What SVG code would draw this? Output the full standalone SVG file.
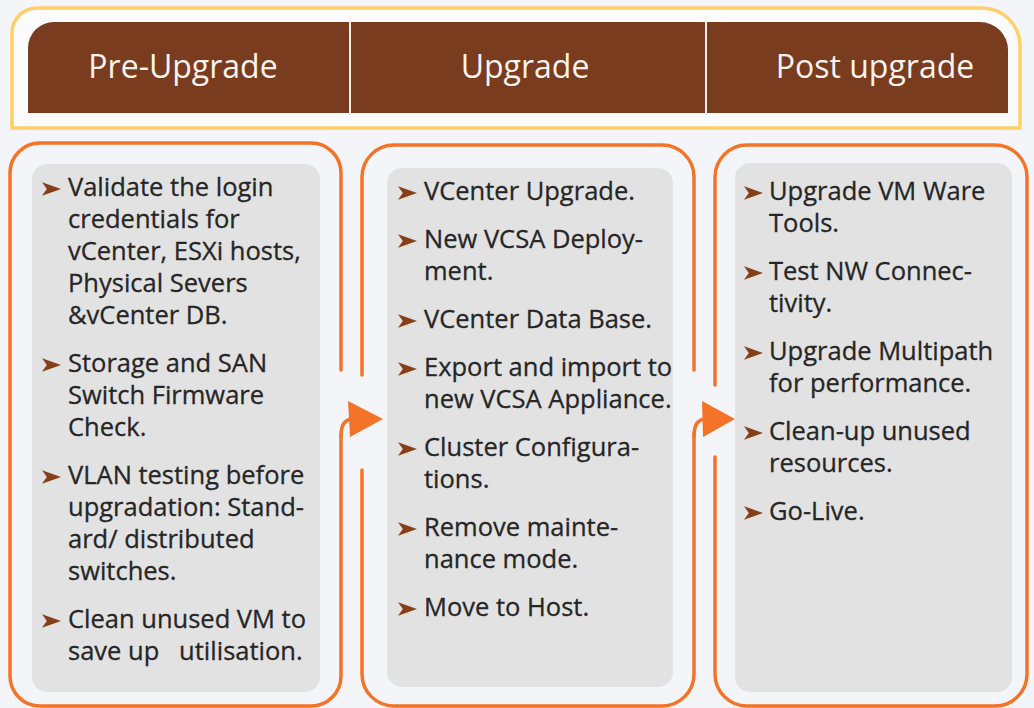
<svg xmlns="http://www.w3.org/2000/svg" width="1034" height="708" viewBox="0 0 1034 708">
  <style>
    .frame { fill: #fbfbfb; stroke: #fdd06a; stroke-width: 3.5; }
    .band { fill: #7a3c1e; }
    .divider { stroke: #f4f1ee; stroke-width: 2; }
    .head { font-family: "Open Sans", "Noto Sans", sans-serif; font-size: 32px; fill: #f8f3ee; text-anchor: middle; }
    .border { fill: none; stroke: #f37328; stroke-width: 3.5; stroke-linecap: round; }
    .inner { fill: #e2e2e2; }
    .body { font-family: "Open Sans", "Noto Sans", sans-serif; font-size: 25.5px; fill: #262626; stroke: #262626; stroke-width: 0.3; white-space: pre; }
    .bul { fill: #85401a; }
    .conn { fill: none; stroke: #f37328; stroke-width: 3.5; stroke-linecap: round; }
    .head-tri { fill: #f37328; }
  </style>
  <defs>
    <path id="bullet" d="M0,-6.8 L19,0 L0,6.8 L4.8,0 Z"/>
  </defs>
  <rect width="1034" height="708" fill="#f3f5f8"/>

  <g id="header">
    <path class="frame" d="M12,128 V33 A25,25 0 0 1 37,8 H982 A38,38 0 0 1 1020,46 V128 Z"/>
    <path class="band" d="M28,113 V48 A26,26 0 0 1 54,22 H980 A28,28 0 0 1 1008,50 V113 Z"/>
    <line class="divider" x1="350" y1="15" x2="350" y2="115"/>
    <line class="divider" x1="706" y1="15" x2="706" y2="115"/>
    <text class="head" x="183" y="78">Pre-Upgrade</text>
    <text class="head" x="525" y="78">Upgrade</text>
    <text class="head" x="875" y="78">Post upgrade</text>
  </g>

  <g id="pre-upgrade">
    <path class="border" d="M341,370 V173 A30,30 0 0 0 311,143 H40 A30,30 0 0 0 10,173 V676 A30,30 0 0 0 40,706 H311 A30,30 0 0 0 341,676 V434"/>
    <rect class="inner" x="32" y="164" width="288" height="528" rx="15"/>
    <g class="bul">
      <use href="#bullet" x="42" y="189"/>
      <use href="#bullet" x="42" y="365"/>
      <use href="#bullet" x="42" y="477"/>
      <use href="#bullet" x="42" y="621"/>
    </g>
    <text class="body" x="68" y="196">Validate the login</text>
    <text class="body" x="68" y="228">credentials for</text>
    <text class="body" x="68" y="260">vCenter, ESXi hosts,</text>
    <text class="body" x="68" y="292">Physical Severs</text>
    <text class="body" x="68" y="324">&amp;vCenter DB.</text>
    <text class="body" x="68" y="372">Storage and SAN</text>
    <text class="body" x="68" y="404">Switch Firmware</text>
    <text class="body" x="68" y="436">Check.</text>
    <text class="body" x="68" y="484">VLAN testing before</text>
    <text class="body" x="68" y="516">upgradation: Stand-</text>
    <text class="body" x="68" y="548">ard/ distributed</text>
    <text class="body" x="68" y="580">switches.</text>
    <text class="body" x="68" y="628">Clean unused VM to</text>
    <text class="body" x="68" y="660">save up   utilisation.</text>
  </g>

  <g id="upgrade">
    <path class="border" d="M362,375 V177 A32,32 0 0 1 394,145 H662 A32,32 0 0 1 694,177 V370"/>
    <path class="border" d="M362,470 V674 A32,32 0 0 0 394,706 H662 A32,32 0 0 0 694,674 V434"/>
    <rect class="inner" x="387" y="168" width="286" height="519" rx="15"/>
    <g class="bul">
      <use href="#bullet" x="398" y="193"/>
      <use href="#bullet" x="398" y="241"/>
      <use href="#bullet" x="398" y="321"/>
      <use href="#bullet" x="398" y="369"/>
      <use href="#bullet" x="398" y="449"/>
      <use href="#bullet" x="398" y="529"/>
      <use href="#bullet" x="398" y="609"/>
    </g>
    <text class="body" x="424" y="200">VCenter Upgrade.</text>
    <text class="body" x="424" y="248">New VCSA Deploy-</text>
    <text class="body" x="424" y="280">ment.</text>
    <text class="body" x="424" y="328">VCenter Data Base.</text>
    <text class="body" x="424" y="376">Export and import to</text>
    <text class="body" x="424" y="408">new VCSA Appliance.</text>
    <text class="body" x="424" y="456">Cluster Configura-</text>
    <text class="body" x="424" y="488">tions.</text>
    <text class="body" x="424" y="536">Remove mainte-</text>
    <text class="body" x="424" y="568">nance mode.</text>
    <text class="body" x="424" y="616">Move to Host.</text>
  </g>

  <g id="post-upgrade">
    <path class="border" d="M715,385 V177 A32,32 0 0 1 747,145 H995 A32,32 0 0 1 1027,177 V674 A32,32 0 0 1 995,706 H747 A32,32 0 0 1 715,674 V457"/>
    <rect class="inner" x="735" y="163" width="277" height="529" rx="15"/>
    <g class="bul">
      <use href="#bullet" x="744" y="193"/>
      <use href="#bullet" x="744" y="273"/>
      <use href="#bullet" x="744" y="353"/>
      <use href="#bullet" x="744" y="433"/>
      <use href="#bullet" x="744" y="513"/>
    </g>
    <text class="body" x="769" y="200">Upgrade VM Ware</text>
    <text class="body" x="769" y="232">Tools.</text>
    <text class="body" x="769" y="280">Test NW Connec-</text>
    <text class="body" x="769" y="312">tivity.</text>
    <text class="body" x="769" y="360">Upgrade Multipath</text>
    <text class="body" x="769" y="392">for performance.</text>
    <text class="body" x="769" y="440">Clean-up unused</text>
    <text class="body" x="769" y="472">resources.</text>
    <text class="body" x="769" y="520">Go-Live.</text>
  </g>

  <g id="connectors">
    <path class="conn" d="M341,436 Q341,419 353,419"/>
    <polygon class="head-tri" points="348,401 383,419 350,437"/>
    <path class="conn" d="M694,436 Q694,419 706,419"/>
    <polygon class="head-tri" points="702,401 735,419 703,437"/>
  </g>
</svg>
